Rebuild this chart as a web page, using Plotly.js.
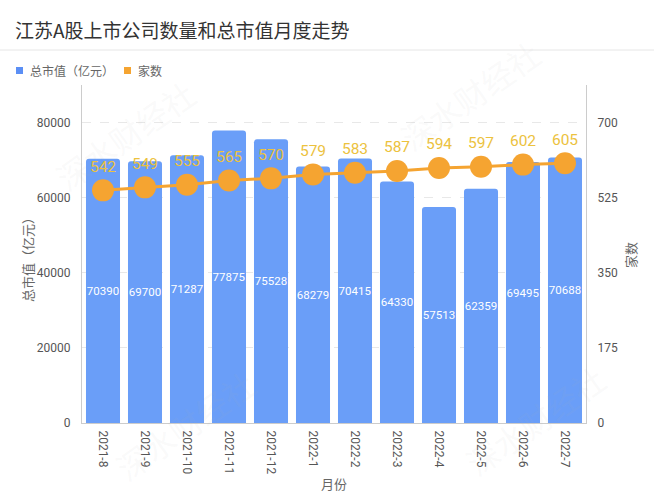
<!DOCTYPE html>
<html>
<head>
<meta charset="utf-8">
<script src="https://cdn.plot.ly/plotly-3.0.1.min.js"></script>
<style>html,body{margin:0;padding:0;background:#fff;}#chart{width:654px;height:500px;}</style>
</head>
<body>
<div id="chart"></div>
<script>
const months = ["2021-8","2021-9","2021-10","2021-11","2021-12","2022-1","2022-2","2022-3","2022-4","2022-5","2022-6","2022-7"];
const marketValue = [70390,69700,71287,77875,75528,68279,70415,64330,57513,62359,69495,70688];
const companyCount = [542,549,555,565,570,579,583,587,594,597,602,605];
const leftTicks = [0,20000,40000,60000,80000];
const rightTicks = [0,175,350,525,700];
const seriesNames = ['总市值（亿元）','家数'];
const seriesColors = ['#5b8ff5','#f5a431'];

const FONT = "Roboto, 'Noto Sans CJK SC', sans-serif";
const CJK = "'Noto Sans CJK SC', sans-serif";
const plotW = 654-82-68, plotH = 500-85-77;
const px = x => (x-82)/plotW;
const py = y => (423-y)/plotH;

const traces = [
  {
    type:'bar', x:months, y:marketValue, name:seriesNames[0], showlegend:false,
    marker:{color:'#6a9ef8', cornerradius:3},
    text:marketValue.map(String), textposition:'inside', insidetextanchor:'middle',
    textangle:0, constraintext:'none', textfont:{color:'#ffffff', size:11.5, family:FONT},
    cliponaxis:false, hoverinfo:'skip'
  },
  {
    type:'scatter', mode:'lines+markers+text', x:months, y:companyCount, yaxis:'y2',
    name:seriesNames[1], showlegend:false,
    line:{color:'#f5a431', width:3},
    marker:{color:'#f5a431', size:22},
    text:companyCount.map(String), textposition:'top center',
    textfont:{color:'#ecc23e', size:15.5, family:FONT}, cliponaxis:false
  }
];

const wm = ['深水财经社','深水财经社','深水财经社','深水财经社'];
const wmPos = [[125,135],[470,95],[185,425],[535,420]];
const annotations = [
  {xref:'paper', yref:'paper', x:px(27), y:py(257), xanchor:'center', yanchor:'middle', text:'总市值（亿元）', textangle:-90, showarrow:false, font:{size:13, color:'#666', family:CJK}},
  {xref:'paper', yref:'paper', x:px(630), y:py(255), xanchor:'center', yanchor:'middle', text:'家数', textangle:-90, showarrow:false, font:{size:13, color:'#666', family:CJK}}
];
// legend
const legX = [16, 124];
const shapes = [{type:'line', xref:'paper', yref:'paper', x0:px(0), x1:px(654), y0:py(50), y1:py(50), line:{color:'#e6e6e6', width:1}}];
seriesNames.forEach((n,i)=>{
  shapes.push({type:'rect', xref:'paper', yref:'paper', x0:px(legX[i]), x1:px(legX[i]+7), y0:py(74), y1:py(67), fillcolor:seriesColors[i], line:{width:0}});
  annotations.push({xref:'paper', yref:'paper', x:px(legX[i]+12), y:py(70.5), xanchor:'left', yanchor:'middle', text:n, showarrow:false, font:{size:12, color:'#666', family:CJK}});
});
wm.forEach((t,i)=>{
  annotations.push({xref:'paper', yref:'paper', x:px(wmPos[i][0]), y:py(wmPos[i][1]), xanchor:'center', yanchor:'middle', text:t, textangle:-35, showarrow:false, font:{size:32, color:'rgba(180,180,180,0.08)', family:CJK}});
});

const layout = {
  width:654, height:500,
  margin:{l:82, r:68, t:85, b:77, autoexpand:false},
  paper_bgcolor:'#fff', plot_bgcolor:'#fff',
  font:{family:FONT, color:'#666', size:12},
  barmode:'overlay', bargap:0.19, showlegend:false,
  title:{text:'江苏A股上市公司数量和总市值月度走势', x:15/654, xanchor:'left', y:1-31/500, yanchor:'middle', font:{size:19, color:'#333', family:CJK}},
  xaxis:{type:'category', range:[-0.5, months.length-0.5], autorange:false, tickangle:90, automargin:false, ticklabelstandoff:4, tickfont:{size:12, color:'#555'}, showline:true, linecolor:'#ccc', linewidth:1, ticks:'', showgrid:false,
    title:{text:'月份', font:{size:13, color:'#666', family:CJK}, standoff:6}},
  yaxis:{range:[0,90000], automargin:false, ticklabelstandoff:8, tickvals:leftTicks, ticktext:leftTicks.map(String), showline:true, linecolor:'#ccc', linewidth:1,
    gridcolor:'#e8e8e8', griddash:'dash', zeroline:false, tickfont:{size:12, color:'#555'}, ticks:''},
  yaxis2:{overlaying:'y', side:'right', automargin:false, ticklabelstandoff:8, range:[0,787.5], tickvals:rightTicks, ticktext:rightTicks.map(String), showline:true, linecolor:'#ccc', linewidth:1,
    showgrid:false, zeroline:false, tickfont:{size:12, color:'#555'}, ticks:''},
  shapes:shapes,
  annotations:annotations
};

Plotly.newPlot('chart', traces, layout, {displayModeBar:false, staticPlot:true});
</script>
</body>
</html>
